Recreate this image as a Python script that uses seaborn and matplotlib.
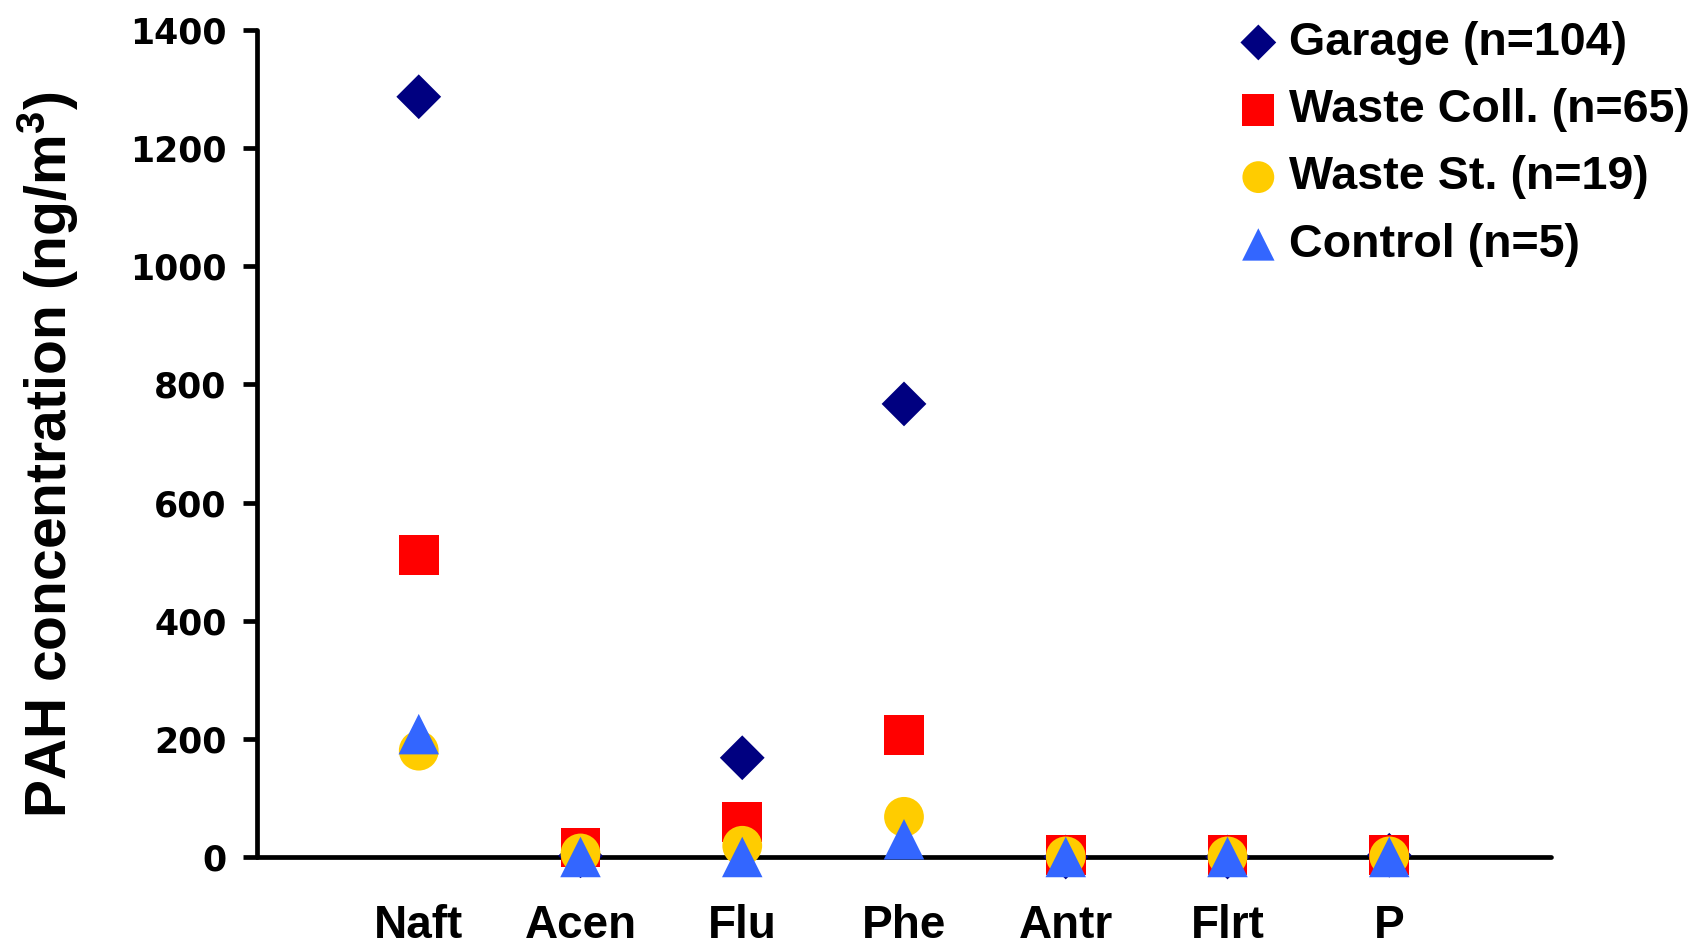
import matplotlib
matplotlib.use("Agg")
import matplotlib.pyplot as plt
import seaborn as sns
import pandas as pd

# PAH compounds on the x axis
compounds = ["Naft", "Acen", "Flu", "Phe", "Antr", "Flrt", "P"]

# Mean concentrations (ng/m3) per group
garage = [1287, 2, 168, 767, 0, 0, 3]
waste_coll = [511, 16, 59, 206, 3, 3, 3]
waste_st = [180, 6, 19, 68, 1, 1, 1]
control = [208, 0, 0, 30, 0, 0, 0]

groups = ["Garage (n=104)", "Waste Coll. (n=65)", "Waste St. (n=19)", "Control (n=5)"]
yticks = [0, 200, 400, 600, 800, 1000, 1200, 1400]

series = {
    groups[0]: garage,
    groups[1]: waste_coll,
    groups[2]: waste_st,
    groups[3]: control,
}

colors = {groups[0]: "#000080", groups[1]: "#FF0000",
          groups[2]: "#FFCC00", groups[3]: "#3366FF"}
markers = {groups[0]: "D", groups[1]: "s", groups[2]: "o", groups[3]: "^"}
sizes = {groups[0]: 520, groups[1]: 820, groups[2]: 820, groups[3]: 850}

sns.set_style("white")
plt.rcParams["font.family"] = ["Liberation Sans", "DejaVu Sans"]
plt.rcParams["font.weight"] = "bold"
plt.rcParams["mathtext.default"] = "regular"
for key in ["text.color", "axes.labelcolor", "xtick.color", "ytick.color",
            "axes.edgecolor"]:
    plt.rcParams[key] = "black"

fig = plt.figure(figsize=(17.03, 9.41), dpi=100)
ax = fig.add_axes([257 / 1703, 1 - 857 / 941, (1551 - 257) / 1703, (857 - 30) / 941])

for name in groups:
    df = pd.DataFrame({"pos": range(1, len(compounds) + 1), "value": series[name]})
    sns.scatterplot(data=df, x="pos", y="value", ax=ax, marker=markers[name],
                    color=colors[name], s=sizes[name], linewidth=0,
                    edgecolor="none", label=name, clip_on=False, zorder=3,
                    legend=False)

ax.set_xlim(0, len(compounds) + 1)
ax.set_ylim(0, 1400)
ax.set_xticks(range(1, len(compounds) + 1))
ax.set_xticklabels(compounds, fontsize=33, fontweight="bold")
ax.set_yticks(yticks)
ax.set_yticklabels([str(v) for v in yticks], fontsize=25, fontweight="bold",
                   family="DejaVu Sans")
ax.tick_params(axis="x", length=0, pad=34)
ax.tick_params(axis="y", length=10, width=3.4, direction="out", pad=12,
               color="black", left=True)
ax.set_xlabel("")
ax.set_ylabel("PAH concentration (ng/m$^3$)", fontsize=41, fontweight="bold")
ax.yaxis.set_label_coords(-0.136, 0.486)

for side in ["top", "right"]:
    ax.spines[side].set_visible(False)
ax.spines["left"].set_linewidth(3.4)
ax.spines["bottom"].set_linewidth(3.4)
ax.spines["left"].set_capstyle("round")
ax.spines["bottom"].set_capstyle("round")
ax.grid(False)

leg = ax.legend(loc="upper left", bbox_to_anchor=(1235 / 1703, 0.978),
                bbox_transform=fig.transFigure, frameon=False, fontsize=33.6,
                markerscale=0.8, handlelength=1.0, handletextpad=0.15,
                labelspacing=0.5, borderpad=0, borderaxespad=0)
for t in leg.get_texts():
    t.set_fontweight("bold")
    t.set_color("black")

fig.savefig("out.png", dpi=100)
